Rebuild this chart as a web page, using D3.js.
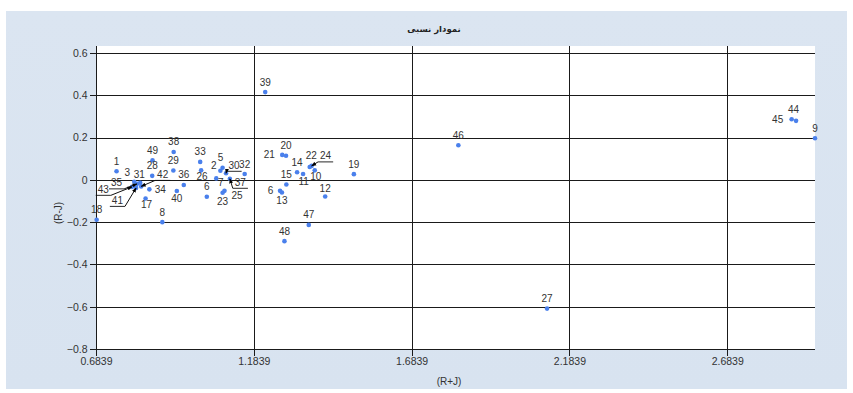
<!DOCTYPE html>
<html>
<head>
<meta charset="utf-8">
<script src="https://cdn.jsdelivr.net/npm/d3@7"></script>
<style>
  html, body { margin: 0; padding: 0; background: #ffffff; }
  svg { display: block; }
</style>
</head>
<body>
<svg id="chart" width="853" height="393"></svg>
<script>
// Point names and their (R+J), (R-J) coordinates
const pointNames = ["1","18","49","38","28","29","33","26","36","34","40","17","8",
  "3","31","35","43","41","42","5","2","7","30","32","37","25","23","6",
  "39","20","21","14","15","11","10","22","24","19","12","6","13","47","48",
  "46","27","44","45","9"];
const sumValues = [0.749,0.686,0.863,0.930,0.862,0.929,1.014,1.017,0.962,0.853,0.940,0.841,0.894,
  0.805,0.824,0.814,0.798,0.811,0.827,1.085,1.078,1.065,1.096,1.155,1.108,1.091,1.085,1.035,
  1.220,1.286,1.274,1.321,1.287,1.340,1.377,1.361,1.367,1.501,1.410,1.267,1.273,1.358,1.281,
  1.832,2.113,2.902,2.888,2.962];
const diffValues = [0.041,-0.189,0.093,0.132,0.019,0.044,0.085,0.045,-0.024,-0.045,-0.053,-0.088,-0.200,
  -0.009,-0.014,-0.019,-0.033,-0.038,-0.031,0.057,0.043,0.007,0.031,0.028,0.005,-0.052,-0.061,-0.080,
  0.415,0.114,0.118,0.036,-0.022,0.028,0.045,0.061,0.066,0.027,-0.079,-0.052,-0.060,-0.213,-0.290,
  0.164,-0.609,0.279,0.287,0.197];

const xTicks = [0.6839, 1.1839, 1.6839, 2.1839, 2.6839];
const yTicks = [0.6, 0.4, 0.2, 0, -0.2, -0.4, -0.6, -0.8];

const chartTitle = "نمودار نسبی";
const xTitle = "(R+J)";
const yTitle = "(R-J)";

// Label placement (text centre offset from the point, in px); callout labels get a leader line
const labelPlacement = {
  7: [1, 6], 9: [11, 0], 10: [0, 7], 11: [1, 6],
  13: [-7, -9], 14: [-1, -8],
  15: [-20.5, -1, true], 16: [-28.7, 2.5, true], 17: [-18.7, 12.5, true], 18: [21.5, -12, true],
  19: [-2, -10.5], 20: [-6.5, -5], 21: [4.5, 4.5], 22: [8, -8, true], 23: [0, -9],
  24: [10.5, 3.5, true], 25: [12.5, 4.5], 26: [0, 9],
  30: [-13, 0], 33: [0.5, 8], 34: [1, 6.5], 35: [1.5, -11], 36: [14, -10, true],
  38: [0, -8.5], 39: [-9.5, 0], 40: [0, 7.5],
  45: [-2.5, -11], 46: [-14, 0]
};

const svg = d3.select("#chart");
const plot = { left: 96, right: 815, top: 46, bottom: 349 };

// Panel background
const defs = svg.append("defs");
const grad = defs.append("linearGradient").attr("id", "panelBg")
  .attr("x1", 0).attr("y1", 0).attr("x2", 0).attr("y2", 1);
grad.append("stop").attr("offset", "0%").attr("stop-color", "#dbe5f1");
grad.append("stop").attr("offset", "100%").attr("stop-color", "#d8e3f0");

const marker = defs.append("marker").attr("id", "arrow")
  .attr("viewBox", "0 0 10 10").attr("refX", 9).attr("refY", 5)
  .attr("markerWidth", 5).attr("markerHeight", 5).attr("orient", "auto");
marker.append("path").attr("d", "M0,1 L10,5 L0,9 Z").attr("fill", "#000");

svg.append("rect").attr("x", 6).attr("y", 11).attr("width", 841).attr("height", 378)
  .attr("fill", "url(#panelBg)");

const x = d3.scaleLinear().domain([0.6839, 2.962]).range([plot.left, plot.right]);
const y = d3.scaleLinear().domain([-0.8, 0.6]).range([plot.bottom, 53]);

// Plot area
svg.append("rect").attr("x", plot.left).attr("y", plot.top)
  .attr("width", plot.right - plot.left).attr("height", plot.bottom - plot.top)
  .attr("fill", "#ffffff");

// Grid
const grid = svg.append("g").attr("stroke", "#1a1a1a").attr("stroke-width", 1).attr("shape-rendering", "crispEdges");
grid.selectAll("line.h").data(yTicks).join("line")
  .attr("x1", plot.left).attr("x2", plot.right)
  .attr("y1", d => Math.round(y(d)) + 0.5).attr("y2", d => Math.round(y(d)) + 0.5);
grid.selectAll("line.v").data(xTicks).join("line")
  .attr("y1", plot.top).attr("y2", plot.bottom)
  .attr("x1", d => Math.round(x(d)) + 0.5).attr("x2", d => Math.round(x(d)) + 0.5);

// Axes
const yAxis = d3.axisLeft(y).tickValues(yTicks).tickSize(7).tickPadding(2)
  .tickFormat(d => d === 0 ? "0" : d3.format(".1f")(d));
const xAxis = d3.axisBottom(x).tickValues(xTicks).tickSize(6).tickPadding(2)
  .tickFormat(d3.format(".4f"));

const gy = svg.append("g").attr("transform", `translate(${plot.left + 0.5},0)`).call(yAxis);
const gx = svg.append("g").attr("transform", `translate(0,${plot.bottom + 0.5})`).call(xAxis);
[gx, gy].forEach(g => {
  g.select(".domain").remove();
  g.selectAll("line").attr("stroke", "#1a1a1a").attr("shape-rendering", "crispEdges");
  g.selectAll("text").attr("fill", "#333").attr("font-family", "Liberation Sans, Arial, sans-serif")
    .attr("font-size", 10.5);
});
svg.append("line").attr("x1", plot.left + 0.5).attr("x2", plot.left + 0.5)
  .attr("y1", plot.top).attr("y2", plot.bottom).attr("stroke", "#1a1a1a");
svg.append("line").attr("x1", plot.left).attr("x2", plot.right)
  .attr("y1", plot.bottom + 0.5).attr("y2", plot.bottom + 0.5).attr("stroke", "#1a1a1a");

// Titles
svg.append("text").attr("x", 434).attr("y", 32).attr("text-anchor", "middle")
  .attr("font-family", "DejaVu Sans, sans-serif").attr("font-size", 8.5).attr("font-weight", "bold")
  .attr("fill", "#222").attr("direction", "rtl").text(chartTitle);
svg.append("text").attr("x", 449).attr("y", 385).attr("text-anchor", "middle")
  .attr("font-family", "Liberation Sans, Arial, sans-serif").attr("font-size", 10).attr("fill", "#333")
  .text(xTitle);
svg.append("text").attr("transform", "translate(62,213) rotate(-90)").attr("text-anchor", "middle")
  .attr("font-family", "Liberation Sans, Arial, sans-serif").attr("font-size", 10).attr("fill", "#333")
  .text(yTitle);

// Points
const points = pointNames.map((name, i) => ({ name, i, xv: sumValues[i], yv: diffValues[i] }));

svg.append("g").selectAll("circle").data(points).join("circle")
  .attr("cx", d => x(d.xv)).attr("cy", d => y(d.yv)).attr("r", 2.3)
  .attr("fill", "#4a80ec");

// Labels
const labelFont = "Liberation Sans, Arial, sans-serif";
const lg = svg.append("g");
points.forEach(d => {
  const place = labelPlacement[d.i] || [0, -10];
  const px = x(d.xv), py = y(d.yv);
  const lx = px + place[0], ly = py + place[1];
  const t = lg.append("text").attr("x", lx).attr("y", ly + 3.5)
    .attr("text-anchor", "middle").attr("font-family", labelFont).attr("font-size", 10)
    .attr("fill", "#333").text(d.name);
  if (place[2]) {
    const w = t.node().getComputedTextLength();
    const uy = ly + 6;
    const x0 = lx - w / 2 - 2, x1 = lx + w / 2 + 2;
    lg.append("line").attr("x1", x0).attr("x2", x1).attr("y1", uy).attr("y2", uy)
      .attr("stroke", "#111").attr("stroke-width", 0.9);
    const sx = Math.abs(px - x0) < Math.abs(px - x1) ? x0 : x1;
    lg.append("line").attr("x1", sx).attr("y1", uy).attr("x2", px).attr("y2", py)
      .attr("stroke", "#111").attr("stroke-width", 1).attr("marker-end", "url(#arrow)");
  }
});
</script>
</body>
</html>
